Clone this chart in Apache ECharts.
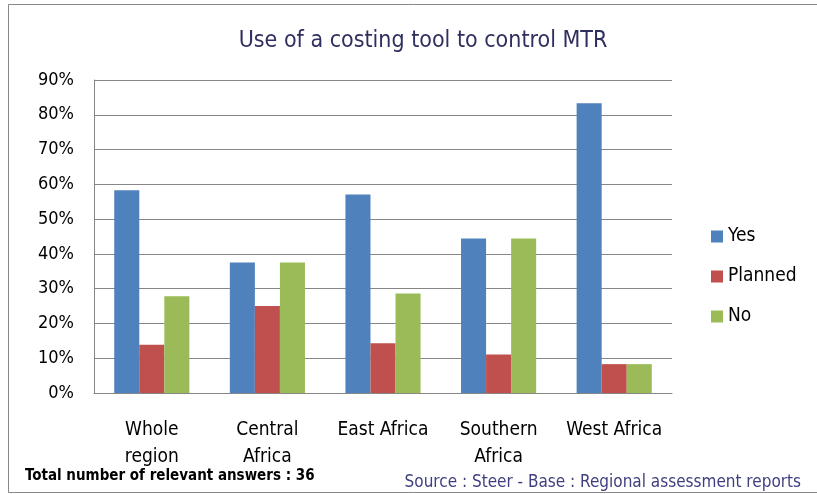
<!DOCTYPE html>
<html>
<head>
<meta charset="utf-8">
<script src="https://cdn.jsdelivr.net/npm/echarts@6/dist/echarts.min.js"></script>
<style>
  html, body { margin: 0; padding: 0; background: #fff; }
  #chart { width: 817px; height: 494px; }
</style>
</head>
<body>
<div id="chart"></div>
<script>
var categories = ['Whole\nregion', 'Central\nAfrica', 'East Africa', 'Southern\nAfrica', 'West Africa'];
var seriesNames = ['Yes', 'Planned', 'No'];
var yesValues = [58.3, 37.5, 57.1, 44.4, 83.3];
var plannedValues = [13.9, 25.0, 14.3, 11.1, 8.3];
var noValues = [27.8, 37.5, 28.6, 44.4, 8.3];
var colors = ['#4F81BD', '#C0504D', '#9BBB59'];

var font = '"Liberation Sans Narrow", "DejaVu Sans Condensed", sans-serif';

var chart = echarts.init(document.getElementById('chart'));

function bar(name, data) {
    return {
        name: name,
        type: 'bar',
        data: data,
        barGap: '0%',
        barCategoryGap: '35%'
    };
}

var option = {
    animation: false,
    color: colors,
    title: {
        text: 'Use of a costing tool to control MTR',
        left: 418,
        top: 25,
        textAlign: 'center',
        textStyle: { fontFamily: font, fontSize: 23, fontWeight: 'normal', color: '#2F2F5F' }
    },
    legend: {
        orient: 'vertical',
        left: 706,
        top: 222,
        itemWidth: 12,
        itemHeight: 12,
        itemGap: 21,
        icon: 'rect',
        data: seriesNames,
        textStyle: { fontFamily: font, fontSize: 19, color: '#000' }
    },
    grid: { left: 94, right: 145, top: 80, bottom: 101, containLabel: false },
    xAxis: {
        type: 'category',
        data: categories,
        axisLine: { lineStyle: { color: '#868686' } },
        axisTick: { show: false },
        axisLabel: {
            interval: 0,
            margin: 24,
            fontFamily: font,
            fontSize: 19,
            lineHeight: 27,
            color: '#000'
        }
    },
    yAxis: {
        type: 'value',
        min: 0,
        max: 90,
        interval: 10,
        axisLine: { show: true, lineStyle: { color: '#868686' } },
        axisTick: { show: false },
        splitLine: { lineStyle: { color: '#868686' } },
        axisLabel: {
            formatter: '{value}%',
            margin: 20,
            fontFamily: font,
            fontSize: 18,
            color: '#000'
        }
    },
    graphic: [
        {
            type: 'rect',
            shape: { x: 8.5, y: 4.5, width: 830, height: 488 },
            style: { fill: 'none', stroke: '#888', lineWidth: 1 },
            silent: true
        },
        {
            type: 'text',
            left: 25,
            top: 469,
            style: {
                text: 'Total number of relevant answers : 36',
                fontFamily: font,
                fontSize: 15,
                fontWeight: 'bold',
                fill: '#000'
            }
        },
        {
            type: 'text',
            right: 16,
            top: 474,
            style: {
                text: 'Source : Steer - Base : Regional assessment reports',
                fontFamily: font,
                fontSize: 17,
                fill: '#3F3F7F'
            }
        }
    ],
    series: [
        bar(seriesNames[0], yesValues),
        bar(seriesNames[1], plannedValues),
        bar(seriesNames[2], noValues)
    ]
};

chart.setOption(option);
window.onresize = chart.resize;
</script>
</body>
</html>
